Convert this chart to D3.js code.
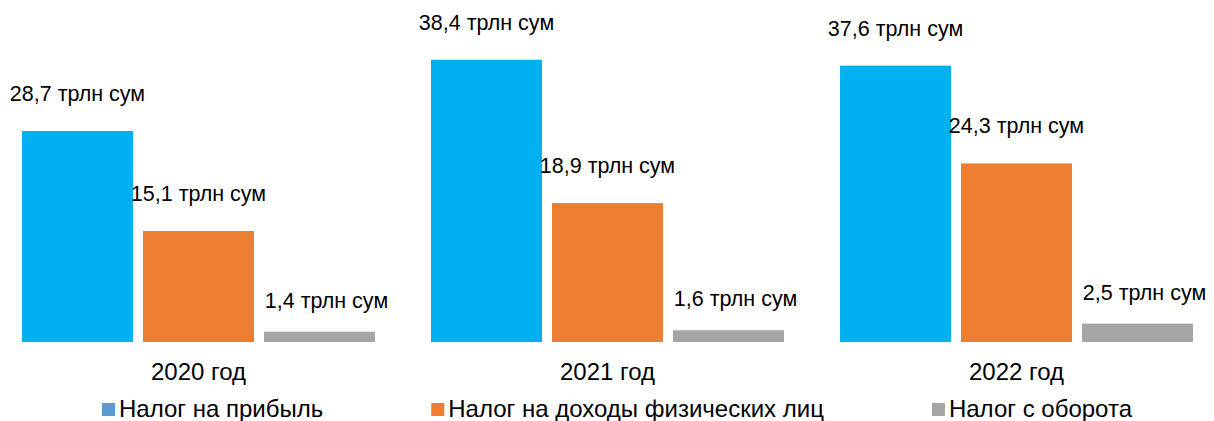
<!DOCTYPE html>
<html>
<head>
<meta charset="utf-8">
<script src="https://cdn.jsdelivr.net/npm/d3@7"></script>
<style>
  body { margin: 0; background: #fff; }
  svg text { font-family: "Liberation Sans", Arial, sans-serif; fill: #000; }
</style>
</head>
<body>
<div id="chart"></div>
<script>
// data
const years = ["2020 год", "2021 год", "2022 год"];
const series = ["Налог на прибыль", "Налог на доходы физических лиц", "Налог с оборота"];
const profitTax = [28.7, 38.4, 37.6];
const incomeTax = [15.1, 18.9, 24.3];
const turnoverTax = [1.4, 1.6, 2.5];
const unit = "трлн сум";

const barColors = ["#00B0F0", "#ED7D31", "#A5A5A5"];
const legendColors = ["#5B9BD5", "#ED7D31", "#A5A5A5"];

const values = [profitTax, incomeTax, turnoverTax];
const data = years.map((y, i) => ({
  year: y,
  bars: series.map((s, j) => ({ key: s, idx: j, value: values[j][i] }))
}));

const width = 1214, height = 421;
const labelSize = 21.5;
const textSize = 24;

const svg = d3.select("#chart")
  .append("svg")
  .attr("width", width)
  .attr("height", height);

const x0 = d3.scaleBand()
  .domain(years)
  .range([22, 1193])
  .paddingInner(0.137)
  .paddingOuter(0);

const x1 = d3.scaleBand()
  .domain(series)
  .range([0, x0.bandwidth()])
  .paddingInner(0.083);

const y = d3.scaleLinear()
  .domain([0, 40])
  .range([342, 48]);

const groups = svg.selectAll("g.year")
  .data(data)
  .join("g")
  .attr("class", "year")
  .attr("transform", d => `translate(${x0(d.year)},0)`);

groups.selectAll("rect")
  .data(d => d.bars)
  .join("rect")
  .attr("x", d => x1(d.key))
  .attr("y", d => y(d.value))
  .attr("width", x1.bandwidth())
  .attr("height", d => y(0) - y(d.value))
  .attr("fill", d => barColors[d.idx]);

// value labels (small gray bars get their label a bit closer and nudged right, like the original)
groups.selectAll("text.val")
  .data(d => d.bars)
  .join("text")
  .attr("class", "val")
  .attr("x", d => x1(d.key) + x1.bandwidth() / 2 + (d.idx === 2 ? 7 : 0))
  .attr("y", d => y(d.value) - (d.idx === 2 ? 24 : 30))
  .attr("text-anchor", "middle")
  .style("font-size", labelSize + "px")
  .text(d => d3.format(".1f")(d.value).replace(".", ",") + " " + unit);

// year axis
const axis = svg.append("g")
  .attr("transform", `translate(0,${y(0)})`)
  .call(d3.axisBottom(x0).tickSize(0).tickPadding(21));
axis.select(".domain").remove();
axis.selectAll("text")
  .style("font-size", textSize + "px")
  .attr("fill", "#000")
  .style("font-family", '"Liberation Sans", Arial, sans-serif');

// legend
const legend = svg.append("g").attr("class", "legend");
const items = legend.selectAll("g")
  .data(series)
  .join("g");
items.append("rect")
  .attr("width", 13)
  .attr("height", 13)
  .attr("y", -14)
  .attr("fill", (d, i) => legendColors[i]);
items.append("text")
  .attr("x", 17)
  .style("font-size", textSize + "px")
  .text(d => d);

let cx = 0;
items.each(function () {
  const g = d3.select(this);
  g.attr("transform", `translate(${cx},0)`);
  cx += 17 + g.select("text").node().getComputedTextLength() + 108;
});
const legendWidth = cx - 108;
legend.attr("transform", `translate(${617 - legendWidth / 2},417)`);
</script>
</body>
</html>
